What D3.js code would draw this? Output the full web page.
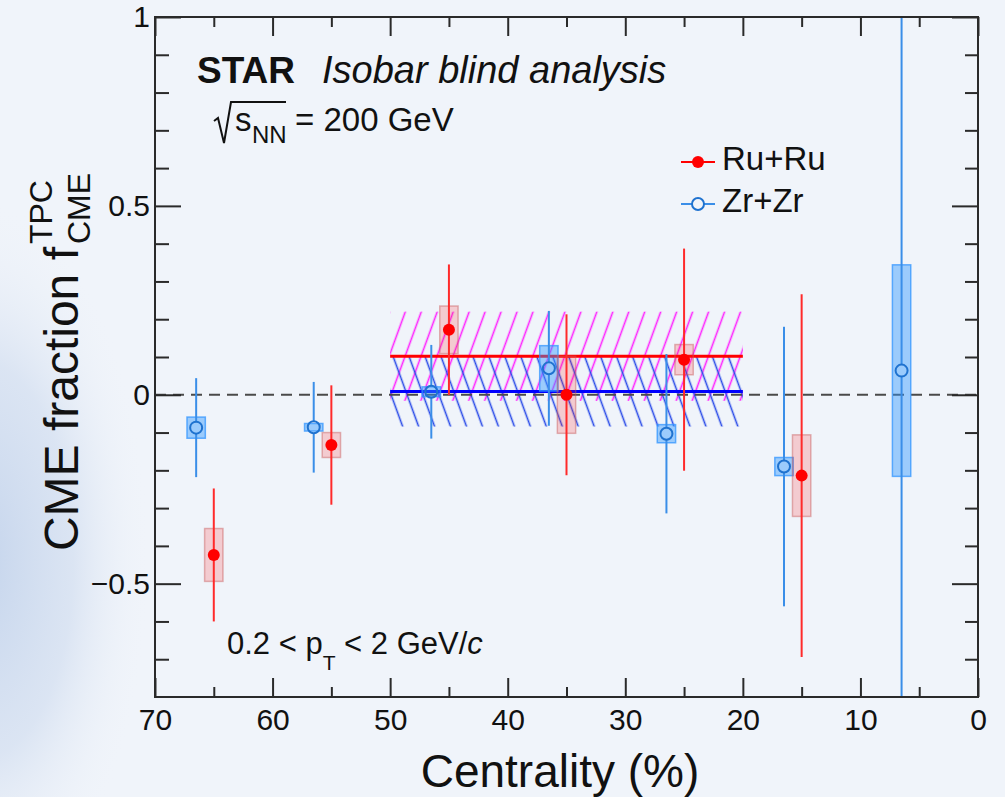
<!DOCTYPE html>
<html><head><meta charset="utf-8">
<script src="https://cdn.jsdelivr.net/npm/d3@7"></script>
<style>
html,body{margin:0;padding:0;background:#f0f4fa;}
svg{display:block;font-family:"Liberation Sans",Arial,Helvetica,sans-serif;}
</style></head><body>
<svg id="chart" width="1005" height="797"></svg>
<script>
// ---------- data ----------
const ruCentrality = [65, 55, 45, 35, 25, 15];
const ruValue      = [-0.424, -0.133, 0.172, 0.0, 0.093, -0.214];
const ruStatErr    = [0.176, 0.158, 0.173, 0.213, 0.294, 0.48];
const ruSysErr     = [0.07, 0.033, 0.063, 0.102, 0.04, 0.108];

const zrCentrality = [66.5, 56.5, 46.5, 36.5, 26.5, 16.5, 6.5];
const zrValue      = [-0.087, -0.086, 0.008, 0.07, -0.103, -0.19, 0.064];
const zrStatErr    = [0.131, 0.12, 0.124, 0.152, 0.211, 0.37, 1.3];
const zrSysErr     = [0.028, 0.01, 0.013, 0.06, 0.024, 0.024, 0.28];

const bandNames  = ["Ru+Ru", "Zr+Zr"];
const bandFrom   = [50, 50];
const bandTo     = [20, 20];
const bandValue  = [0.102, 0.009];
const bandErr    = [0.118, 0.093];

const xMajorTicks = [70, 60, 50, 40, 30, 20, 10, 0];
const xMinorTicks = [65, 55, 45, 35, 25, 15, 5];
const yMajorTicks = [-0.5, 0, 0.5, 1];
const yMinorTicks = [-0.7, -0.6, -0.4, -0.3, -0.2, -0.1, 0.1, 0.2, 0.3, 0.4, 0.6, 0.7, 0.8, 0.9];

// ---------- setup ----------
const svg = d3.select("#chart");
const L = 155, R = 978, T = 17, B = 697;
const x = d3.scaleLinear().domain([70, 0]).range([L, R]);
const y = d3.scaleLinear().domain([-0.8, 1]).range([B, T]);
const boxHalf = 0.78; // centrality half-width of systematic boxes

const defs = svg.append("defs");
// background shading
const rg = defs.append("radialGradient").attr("id", "shade");
rg.append("stop").attr("offset", "0%").attr("stop-color", "rgb(196,212,236)").attr("stop-opacity", 1);
rg.append("stop").attr("offset", "55%").attr("stop-color", "rgb(210,222,240)").attr("stop-opacity", 0.7);
rg.append("stop").attr("offset", "100%").attr("stop-color", "rgb(240,244,250)").attr("stop-opacity", 0);
svg.append("rect").attr("width", 1005).attr("height", 797).attr("fill", "#f0f4fa");
svg.append("ellipse").attr("cx", -20).attr("cy", 560).attr("rx", 170).attr("ry", 360).attr("fill", "url(#shade)");

defs.append("clipPath").attr("id", "plotclip").append("rect")
  .attr("x", L).attr("y", T).attr("width", R - L).attr("height", B - T);

// hatch patterns
const hatchColors = ["#ff22ff", "#2a4be8"];
const hatchAngles = [20, -20];
hatchColors.forEach((c, i) => {
  const p = defs.append("pattern").attr("id", "hatch" + i)
    .attr("patternUnits", "userSpaceOnUse").attr("width", 15).attr("height", 20)
    .attr("patternTransform", `rotate(${hatchAngles[i]})`);
  p.append("line").attr("x1", 7.5).attr("x2", 7.5).attr("y1", -2).attr("y2", 22)
    .attr("stroke", c).attr("stroke-width", 1.6);
});

// ---------- bands ----------
const plot = svg.append("g").attr("clip-path", "url(#plotclip)");
bandNames.forEach((n, i) => {
  plot.append("rect")
    .attr("x", x(bandFrom[i])).attr("width", x(bandTo[i]) - x(bandFrom[i]))
    .attr("y", y(bandValue[i] + bandErr[i]))
    .attr("height", y(bandValue[i] - bandErr[i]) - y(bandValue[i] + bandErr[i]))
    .attr("fill", `url(#hatch${i})`);
});
const bandLineColors = ["#ff0000", "#0000ff"];
bandNames.forEach((n, i) => {
  plot.append("line")
    .attr("x1", x(bandFrom[i])).attr("x2", x(bandTo[i]))
    .attr("y1", y(bandValue[i])).attr("y2", y(bandValue[i]))
    .attr("stroke", bandLineColors[i]).attr("stroke-width", 3);
});

// zero line
plot.append("line").attr("x1", L).attr("x2", R).attr("y1", y(0)).attr("y2", y(0))
  .attr("stroke", "#4a4a4a").attr("stroke-width", 2).attr("stroke-dasharray", "11,7");

// ---------- data points ----------
const zr = zrCentrality.map((c, i) => ({c, v: zrValue[i], s: zrStatErr[i], e: zrSysErr[i]}));
const ru = ruCentrality.map((c, i) => ({c, v: ruValue[i], s: ruStatErr[i], e: ruSysErr[i]}));
const mr = 6;

// sys boxes
plot.selectAll(".zrbox").data(zr).join("rect")
  .attr("x", d => x(d.c + boxHalf)).attr("width", d => x(d.c - boxHalf) - x(d.c + boxHalf))
  .attr("y", d => y(d.v + d.e)).attr("height", d => y(d.v - d.e) - y(d.v + d.e))
  .attr("fill", "rgba(51,153,255,0.45)").attr("stroke", "rgba(51,150,255,0.75)").attr("stroke-width", 1.5);
plot.selectAll(".rubox").data(ru).join("rect")
  .attr("x", d => x(d.c + boxHalf)).attr("width", d => x(d.c - boxHalf) - x(d.c + boxHalf))
  .attr("y", d => y(d.v + d.e)).attr("height", d => y(d.v - d.e) - y(d.v + d.e))
  .attr("fill", "rgba(255,40,40,0.2)").attr("stroke", "rgba(200,90,90,0.45)").attr("stroke-width", 1.5);

// stat errors
plot.selectAll(".zrerrU").data(zr).join("line")
  .attr("x1", d => x(d.c)).attr("x2", d => x(d.c))
  .attr("y1", d => y(d.v + d.s)).attr("y2", d => y(d.v) - mr)
  .attr("stroke", "#3a8ee8").attr("stroke-width", 2);
plot.selectAll(".zrerrD").data(zr).join("line")
  .attr("x1", d => x(d.c)).attr("x2", d => x(d.c))
  .attr("y1", d => y(d.v) + mr).attr("y2", d => y(d.v - d.s))
  .attr("stroke", "#3a8ee8").attr("stroke-width", 2);
plot.selectAll(".ruerr").data(ru).join("line")
  .attr("x1", d => x(d.c)).attr("x2", d => x(d.c))
  .attr("y1", d => y(d.v + d.s)).attr("y2", d => y(d.v - d.s))
  .attr("stroke", "#ff2a2a").attr("stroke-width", 2);

// markers
plot.selectAll(".zrm").data(zr).join("circle")
  .attr("cx", d => x(d.c)).attr("cy", d => y(d.v)).attr("r", mr)
  .attr("fill", "none").attr("stroke", "#1f72cf").attr("stroke-width", 2);
plot.selectAll(".rum").data(ru).join("circle")
  .attr("cx", d => x(d.c)).attr("cy", d => y(d.v)).attr("r", mr)
  .attr("fill", "#ff0000");

// ---------- axes ----------
const axColor = "#2a2a2a";
function styleAxis(g) {
  g.select(".domain").remove();
  g.selectAll(".tick line").attr("stroke", axColor).attr("stroke-width", 2);
  g.selectAll(".tick text").attr("fill", "#111").attr("font-size", 30)
    .attr("font-family", '"Liberation Sans",Arial,Helvetica,sans-serif');
}
const fmt = d3.format("~g");
svg.append("g").attr("transform", `translate(0,${B})`)
  .call(d3.axisBottom(x).tickValues(xMajorTicks).tickSize(-19).tickSizeOuter(0).tickPadding(12).tickFormat(fmt))
  .call(styleAxis);
svg.append("g").attr("transform", `translate(0,${B})`)
  .call(d3.axisBottom(x).tickValues(xMinorTicks).tickSize(-10).tickSizeOuter(0).tickFormat(""))
  .call(styleAxis);
svg.append("g").attr("transform", `translate(0,${T})`)
  .call(d3.axisTop(x).tickValues(xMajorTicks).tickSize(-19).tickSizeOuter(0).tickFormat(""))
  .call(styleAxis);
svg.append("g").attr("transform", `translate(0,${T})`)
  .call(d3.axisTop(x).tickValues(xMinorTicks).tickSize(-10).tickSizeOuter(0).tickFormat(""))
  .call(styleAxis);
svg.append("g").attr("transform", `translate(${L},0)`)
  .call(d3.axisLeft(y).tickValues(yMajorTicks).tickSize(-26).tickSizeOuter(0).tickPadding(5).tickFormat(fmt))
  .call(styleAxis);
svg.append("g").attr("transform", `translate(${L},0)`)
  .call(d3.axisLeft(y).tickValues(yMinorTicks).tickSize(-14).tickSizeOuter(0).tickFormat(""))
  .call(styleAxis);
svg.append("g").attr("transform", `translate(${R},0)`)
  .call(d3.axisRight(y).tickValues(yMajorTicks).tickSize(-26).tickSizeOuter(0).tickFormat(""))
  .call(styleAxis);
svg.append("g").attr("transform", `translate(${R},0)`)
  .call(d3.axisRight(y).tickValues(yMinorTicks).tickSize(-13).tickSizeOuter(0).tickFormat(""))
  .call(styleAxis);
svg.append("rect").attr("x", L).attr("y", T).attr("width", R - L).attr("height", B - T)
  .attr("fill", "none").attr("stroke", axColor).attr("stroke-width", 2);

// axis titles
svg.append("text").attr("x", 560).attr("y", 787).attr("text-anchor", "middle")
  .attr("font-size", 46).attr("fill", "#111").text("Centrality (%)");

const gl = svg.append("g").attr("transform", "translate(78,362) rotate(-90)");
const t1 = gl.append("text").attr("font-size", 48).attr("fill", "#111").text("CME fraction f");
const sup = gl.append("text").attr("font-size", 32).attr("fill", "#111").text("TPC");
const sub = gl.append("text").attr("font-size", 32).attr("fill", "#111").text("CME");
const w1 = t1.node().getComputedTextLength();
const w2 = Math.max(sup.node().getComputedTextLength(), sub.node().getComputedTextLength());
const tot = w1 + 3 + w2;
t1.attr("x", -tot / 2);
sup.attr("x", -tot / 2 + w1 + 3).attr("y", -26);
sub.attr("x", -tot / 2 + w1 + 3).attr("y", 12);

// annotations
svg.append("text").attr("x", 197).attr("y", 83).attr("font-size", 37).attr("font-weight", "bold")
  .attr("fill", "#111").text("STAR");
svg.append("text").attr("x", 322).attr("y", 83).attr("font-size", 38).attr("font-style", "italic")
  .attr("fill", "#111").text("Isobar blind analysis");

svg.append("path").attr("d", "M214,121 L218,118 L224,143 L231,102 L286,102")
  .attr("fill", "none").attr("stroke", "#111").attr("stroke-width", 2);
svg.append("text").attr("x", 235).attr("y", 131).attr("font-size", 33).attr("fill", "#111").text("s");
svg.append("text").attr("x", 252).attr("y", 143).attr("font-size", 24).attr("fill", "#111").text("NN");
svg.append("text").attr("x", 295).attr("y", 131).attr("font-size", 33).attr("fill", "#111").text("= 200 GeV");

const pt = svg.append("text").attr("x", 227).attr("y", 654).attr("font-size", 31).attr("fill", "#111");
pt.append("tspan").text("0.2 < p");
pt.append("tspan").attr("font-size", 21).attr("dy", 16).text("T");
pt.append("tspan").attr("dy", -16).text(" < 2 GeV/");
pt.append("tspan").attr("font-style", "italic").text("c");

// legend
const legColors = ["#ff0000", "#3a8ee8"];
const legY = [162, 204];
bandNames.forEach((n, i) => {
  svg.append("line").attr("x1", 681).attr("x2", 715).attr("y1", legY[i]).attr("y2", legY[i])
    .attr("stroke", legColors[i]).attr("stroke-width", 2);
  if (i === 0) {
    svg.append("circle").attr("cx", 698).attr("cy", legY[i]).attr("r", mr).attr("fill", "#ff0000");
  } else {
    svg.append("circle").attr("cx", 698).attr("cy", legY[i]).attr("r", mr)
      .attr("fill", "#f0f4fa").attr("stroke", "#1f72cf").attr("stroke-width", 2);
  }
  svg.append("text").attr("x", 722).attr("y", legY[i] + 8).attr("font-size", 33)
    .attr("fill", "#111").text(n);
});
</script>
</body></html>
